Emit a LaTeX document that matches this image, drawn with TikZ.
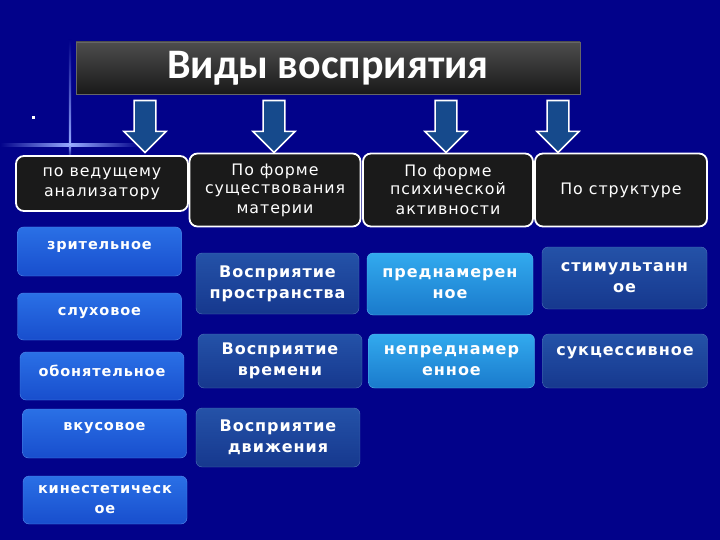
\documentclass[tikz,border=0pt]{standalone}
\usepackage{fontspec}
\setmainfont{DejaVu Sans}
\newfontfamily\titlefont{Carlito}
\newfontfamily\wfont[LetterSpace=6]{DejaVu Sans}
\usetikzlibrary{shapes.arrows}
\definecolor{bgblue}{RGB}{2,2,138}
\definecolor{flare}{RGB}{150,170,255}
\definecolor{hdrgray}{RGB}{26,26,26}
\definecolor{arrowblue}{RGB}{22,74,140}
\definecolor{lbluetop}{RGB}{42,112,230}
\definecolor{lbluebot}{RGB}{24,78,205}
\definecolor{dbluetop}{RGB}{36,82,168}
\definecolor{dbluebot}{RGB}{22,56,142}
\definecolor{cbluetop}{RGB}{50,170,238}
\definecolor{cbluebot}{RGB}{26,122,204}

\begin{document}
\begin{tikzpicture}[x=1pt,y=-1pt,
  titlebox/.style={draw=black!60, top color=black!70, bottom color=black!90, minimum width=504, minimum height=52, inner sep=0pt, text=white, font=\titlefont\bfseries\fontsize{42}{44}\selectfont},
  hdrbox/.style={draw=white, line width=1.8pt, fill=hdrgray, rounded corners=8pt, inner sep=0pt, text=white, align=center, font=\wfont\fontsize{15.8}{20}\selectfont},
  blubox/.style={rounded corners=6pt, inner sep=0pt, text=white, align=center, font=\wfont\bfseries\fontsize{16}{21}\selectfont},
  lbox/.style={blubox, top color=lbluetop, bottom color=lbluebot, draw=lbluetop!80!white, line width=0.4pt, minimum width=164, minimum height=48, font=\wfont\bfseries\fontsize{14.5}{20}\selectfont},
  dbox/.style={blubox, top color=dbluetop, bottom color=dbluebot, draw=dbluetop!80!white, line width=0.4pt, minimum width=164},
  cbox/.style={blubox, top color=cbluetop, bottom color=cbluebot, draw=cbluetop!80!white, line width=0.4pt, minimum width=166},
  ltext/.style={text=white, font=\wfont\bfseries\fontsize{14.5}{20}\selectfont},
  darrow/.style={single arrow, shape border rotate=270, draw=white, fill=arrowblue, line width=1.6pt, minimum height=52, minimum width=42, single arrow head extend=10, inner sep=10pt}
]
\useasboundingbox (0,0) rectangle (720,540);
\fill[bgblue] (0,0) rectangle (720,540);

% flare
\shade[left color=bgblue, right color=bgblue, middle color=flare] (0,143.5) rectangle (140,146.5);
\shade[top color=bgblue, bottom color=flare] (68.8,40) rectangle (71.2,145);
\shade[top color=flare, bottom color=bgblue] (68.8,145) rectangle (71.2,158);
\fill[white] (31.5,116.5) rectangle (34.5,119.5);

% title
\node[titlebox] (title) at (328,68) {Виды восприятия};

% arrows
\node[darrow] (a1) at (145,121) {};
\node[darrow] (a2) at (274,121) {};
\node[darrow] (a3) at (446,121) {};
\node[darrow] (a4) at (558,121) {};

% headers
\node[hdrbox, minimum width=172, minimum height=55] (h1) at (102,183.5) {по ведущему\\анализатору};
\node[hdrbox, minimum width=171, minimum height=73] (h2) at (275,190) {\raisebox{-2pt}{По форме}\\существования\\материи};
\node[hdrbox, minimum width=170, minimum height=73] (h3) at (448,190) {\raisebox{-2pt}{По форме}\\психической\\активности};
\node[hdrbox, minimum width=172, minimum height=73] (h4) at (621,190) {По структуре};

% analyzer
\node[lbox, minimum height=49] (zr) at (99.5,251.5) {};
\node[ltext] at (99.5,247) {зрительное};
\node[lbox, minimum height=47] (sl) at (99.5,316.5) {};
\node[ltext] at (99.5,313) {слуховое};
\node[lbox] (ob) at (102,376) {};
\node[ltext] at (102,371) {обонятельное};
\node[lbox, minimum height=49] (vk) at (104.5,433.5) {};
\node[ltext] at (104.5,428) {вкусовое};
\node[lbox] (ki) at (105,500) {кинестетическ\\ое};

% matter
\node[dbox, minimum width=163, minimum height=61] (pr) at (277.5,283.5) {Восприятие\\пространства};
\node[dbox, minimum height=54] (vr) at (280,361) {Восприятие\\времени};
\node[dbox, minimum height=59] (dv) at (278,437.5) {Восприятие\\движения};

% activity
\node[cbox, minimum height=62] (pn) at (450,284) {преднамерен\\ное};
\node[cbox, minimum height=54] (np) at (451.5,361) {непреднамер\\енное};

% structure
\node[dbox, minimum width=165, minimum height=62] (st) at (624.5,278) {стимультанн\\ое};
\node[dbox, minimum width=165, minimum height=54] (su) at (625,361) {};
\node[text=white, font=\wfont\bfseries\fontsize{16}{21}\selectfont] at (625,353) {сукцессивное};
\end{tikzpicture}
\end{document}
